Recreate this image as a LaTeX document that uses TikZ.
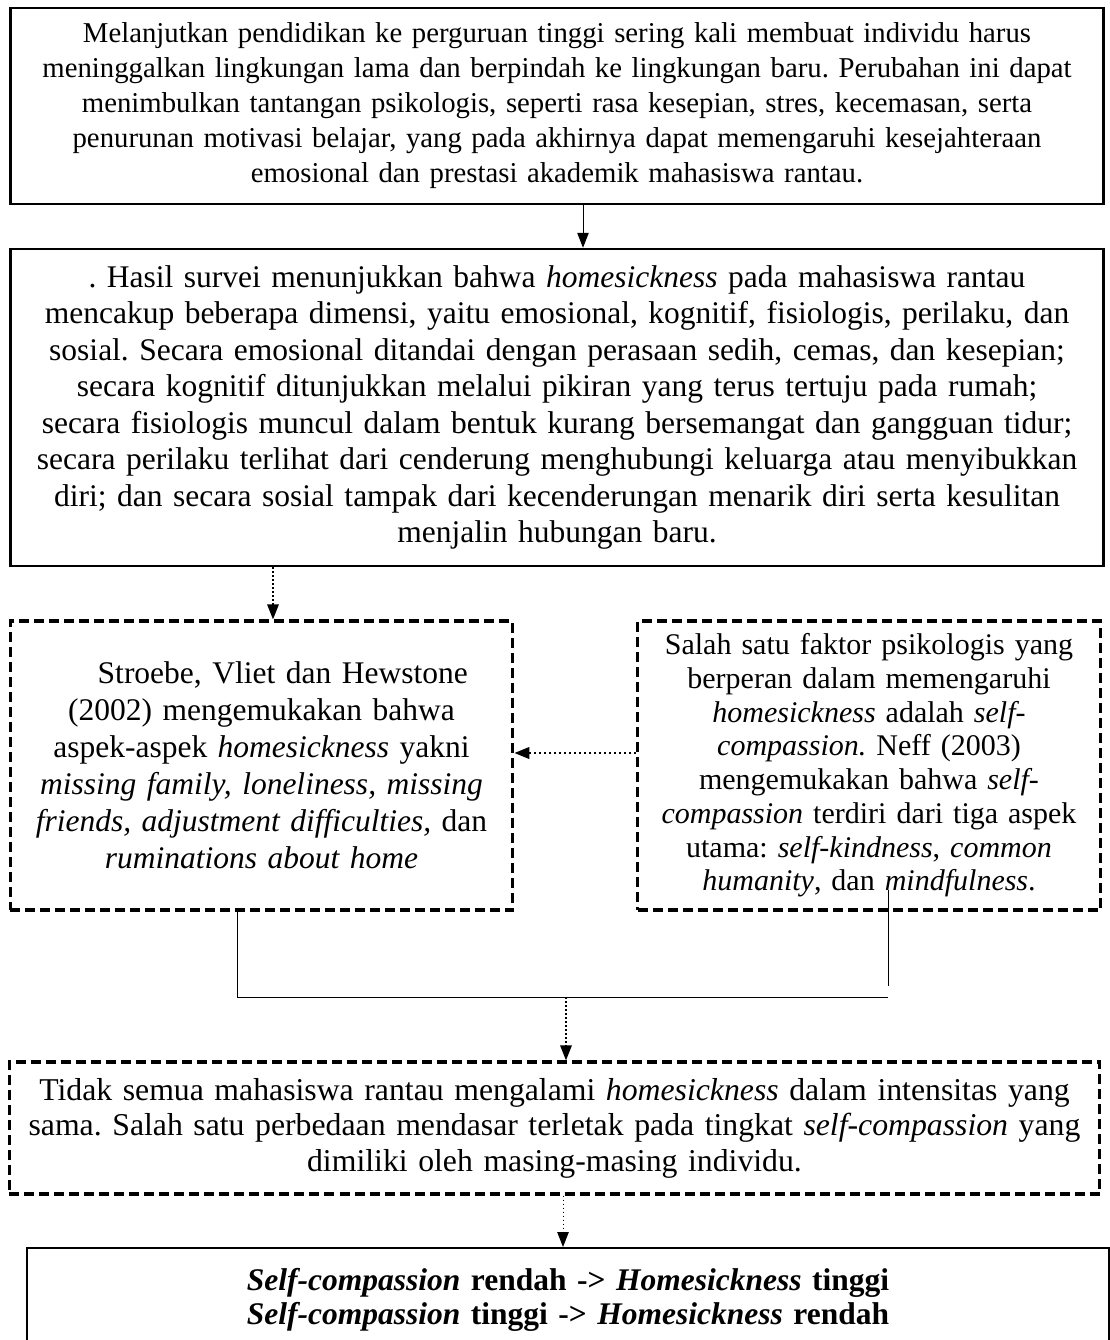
\documentclass[tikz,border=0pt]{standalone}
\usepackage{fontspec}
\setmainfont{Liberation Serif}
\usetikzlibrary{arrows.meta, positioning}
\frenchspacing

\begin{document}
\begin{tikzpicture}[x=0.4pt, y=-0.4pt,
        every node/.style={font=\fontsize{12.6}{14.6}\selectfont, align=center, inner sep=0pt},
        solidbox/.style={draw, line width=1pt},
        dashbox/.style={draw, line width=1.3pt, dash pattern=on 4pt off 2pt},
        tip/.style={-{Triangle[length=6pt, width=4.6pt]}},
        solidarrow/.style={tip, line width=0.4pt},
        dotarrow/.style={tip, line width=0.6pt, dash pattern=on 0.6pt off 1pt},
        joinline/.style={line width=0.4pt}]

        \useasboundingbox (0,0) rectangle (1109,1340);

        % boxes
        \node[solidbox, text width=437pt, minimum height=78.4pt,
              font=\fontsize{11.5}{14}\selectfont] (intro) at (557,106)
            {Melanjutkan pendidikan ke perguruan tinggi sering kali membuat individu harus\\
             meninggalkan lingkungan lama dan berpindah ke lingkungan baru. Perubahan ini dapat\\
             menimbulkan tantangan psikologis, seperti rasa kesepian, stres, kecemasan, serta\\
             penurunan motivasi belajar, yang pada akhirnya dapat memengaruhi kesejahteraan\\
             emosional dan prestasi akademik mahasiswa rantau.};
        \node[solidbox, text width=437pt, minimum height=126.8pt] (survey) at (557,407.5)
            {. Hasil survei menunjukkan bahwa \textit{homesickness} pada mahasiswa rantau\\
             mencakup beberapa dimensi, yaitu emosional, kognitif, fisiologis, perilaku, dan\\
             sosial. Secara emosional ditandai dengan perasaan sedih, cemas, dan kesepian;\\
             secara kognitif ditunjukkan melalui pikiran yang terus tertuju pada rumah;\\
             secara fisiologis muncul dalam bentuk kurang bersemangat dan gangguan tidur;\\
             secara perilaku terlihat dari cenderung menghubungi keluarga atau menyibukkan\\
             diri; dan secara sosial tampak dari kecenderungan menarik diri serta kesulitan\\
             menjalin hubungan baru.};
        \node[dashbox, text width=201pt, minimum height=115.6pt,
              font=\fontsize{12.6}{14.8}\selectfont] (aspects) at (261.5,765.5)
            {\hspace*{17pt}Stroebe, Vliet dan Hewstone\\
             (2002) mengemukakan bahwa\\
             aspek-aspek \textit{homesickness} yakni\\
             \textit{missing family, loneliness, missing}\\
             \textit{friends, adjustment difficulties,} dan\\
             \textit{ruminations about home}};
        \node[dashbox, text width=185pt, minimum height=115.6pt,
              font=\fontsize{12}{13.5}\selectfont] (factor) at (869,765.5)
            {Salah satu faktor psikologis yang\\
             berperan dalam memengaruhi\\
             \textit{homesickness} adalah \textit{self-}\\
             \textit{compassion.} Neff (2003)\\
             mengemukakan bahwa \textit{self-}\\
             \textit{compassion} terdiri dari tiga aspek\\
             utama: \textit{self-kindness}, \textit{common}\\
             \textit{humanity}, dan \textit{mindfulness}.};
        \node[dashbox, text width=436pt, minimum height=52.8pt,
              font=\fontsize{12.7}{14.2}\selectfont] (differ) at (554.5,1128)
            {Tidak semua mahasiswa rantau mengalami \textit{homesickness} dalam intensitas yang\\
             sama. Salah satu perbedaan mendasar terletak pada tingkat \textit{self-compassion} yang\\
             dimiliki oleh masing-masing individu.};
        \node[draw, line width=0.8pt, text width=433pt, minimum height=41.6pt,
              font=\bfseries\fontsize{12.6}{13.4}\selectfont] (result) at (568,1300)
            {\textit{Self-compassion} rendah -> \textit{Homesickness} tinggi\\
             \textit{Self-compassion} tinggi -> \textit{Homesickness} rendah};

        % connectors
        \coordinate (a1) at (583,0);
        \coordinate (a2) at (273,0);
        \coordinate (a3) at (0,753);
        \coordinate (jl) at (237,997);
        \coordinate (jr) at (888,997);
        \coordinate (jm) at (566,997);
        \coordinate (rtop) at (888,890);
        \coordinate (rbot) at (888,986);
        \coordinate (a5) at (563,0);

        \draw[solidarrow] (a1 |- intro.south) -- (a1 |- survey.north);
        \draw[dotarrow] (a2 |- survey.south) -- (a2 |- aspects.north);
        \draw[dotarrow, line width=1pt, dash pattern=on 1pt off 1pt] (factor.west |- a3) -- (aspects.east |- a3);
        \draw[joinline] (jl |- aspects.south) -- (jl) -- (jr);
        \draw[joinline] (rtop) -- (rbot);
        \draw[dotarrow] (jm) -- (jm |- differ.north);
        \draw[dotarrow, line width=0.4pt] (a5 |- differ.south) -- (a5 |- result.north);

\end{tikzpicture}
\end{document}
